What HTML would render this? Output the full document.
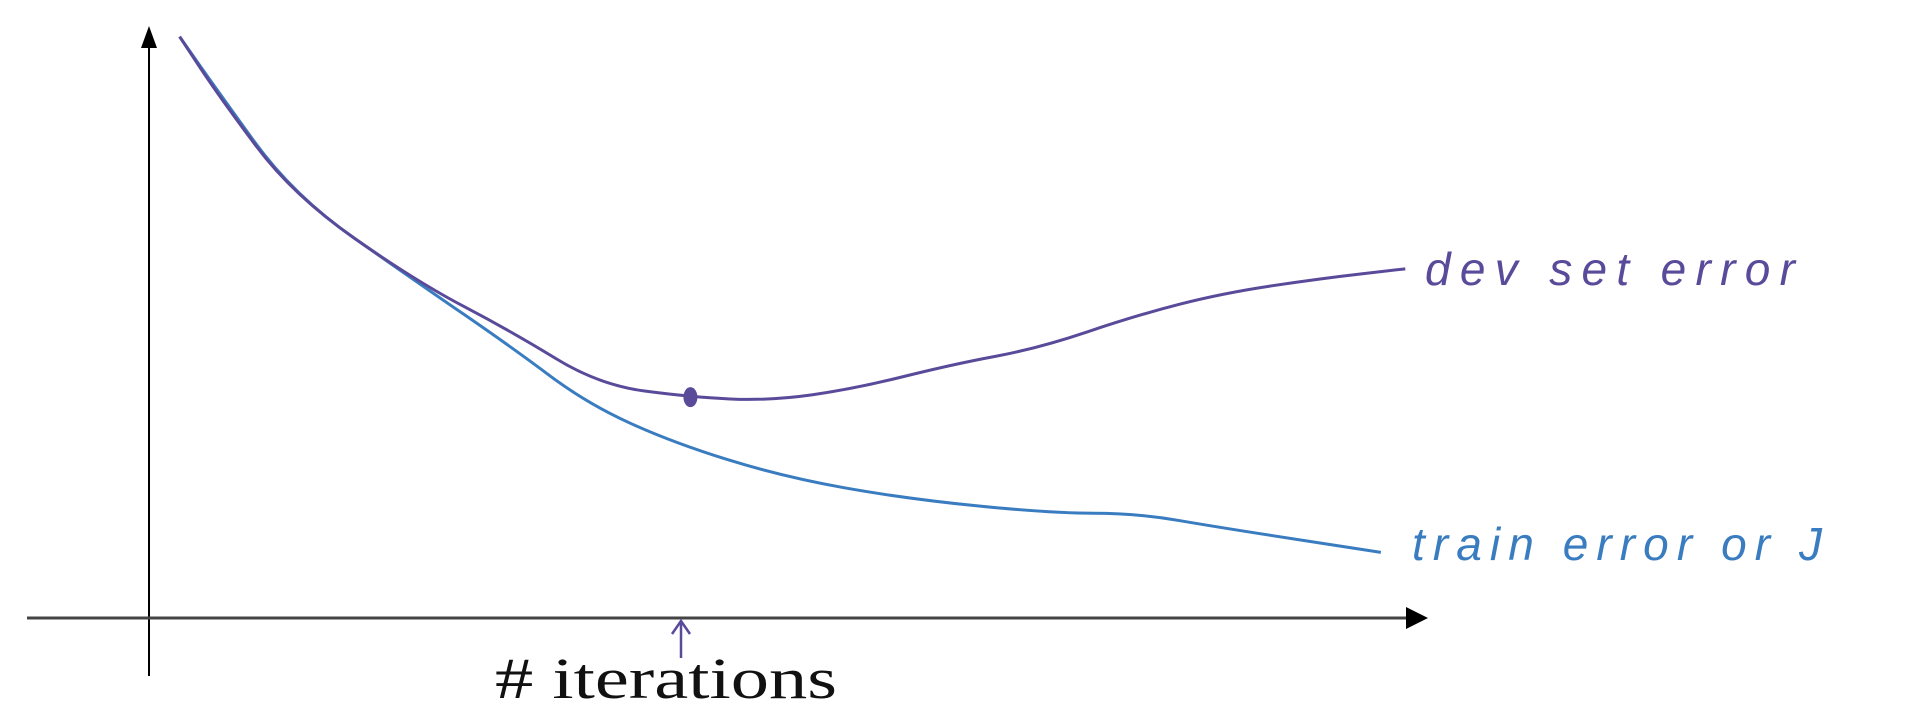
<!DOCTYPE html>
<html><head><meta charset="utf-8"><style>
html,body{margin:0;padding:0;background:#fff;width:1916px;height:726px;overflow:hidden}
</style></head><body>
<svg id="chart" width="1916" height="726" viewBox="0 0 1916 726" xmlns="http://www.w3.org/2000/svg">
<g id="axes">
<line x1="149" y1="676" x2="149" y2="40" stroke="#000" stroke-width="2"/>
<polygon points="149,26 141,48 157,48" fill="#000"/>
<line x1="27" y1="618" x2="1410" y2="618" stroke="#444" stroke-width="3"/>
<polygon points="1428,618 1406,607 1406,629" fill="#000"/>
<text x="495" y="698" font-family="Liberation Serif, serif" font-size="58" fill="#111" textLength="342" lengthAdjust="spacingAndGlyphs"># iterations</text>
<path d="M681,658 L681,622 M672,634 L681,621 L690,634" stroke="#5a4a9a" stroke-width="2.5" fill="none"/>
</g>
<g id="series"></g>
<text x="1425" y="285" font-family="Liberation Sans, sans-serif" font-size="46" font-style="italic" fill="#5a4a9a" textLength="370">dev set error</text>
<text x="1412" y="560" font-family="Liberation Sans, sans-serif" font-size="46" font-style="italic" fill="#3a7cc0" textLength="410">train error   or J</text>
</svg>
<script>
const iterations = [25, 58, 118, 218, 298, 368, 443, 508, 578, 658, 728, 808, 878, 958, 1028];
const devError = [476, 426, 346, 276, 234, 191, 181, 178, 188, 208, 221, 248, 266, 278, 286];
const trainIterations = [25, 53, 118, 218, 298, 358, 428, 518, 618, 738, 808, 878, 1008];
const trainError = [476, 436, 346, 276, 221, 176, 144, 116, 98, 86, 86, 74, 54];
const xScale = v => (122 + v) * 1.222;
const yScale = v => (506 - v) * 1.222;
const g = document.getElementById('series');
const NS = 'http://www.w3.org/2000/svg';
function line(xs, ys, color, name) {
  const p = document.createElementNS(NS, 'path');
  let d = '';
  xs.forEach((x, i) => {
    const px = xScale(x), py = yScale(ys[i]);
    if (i === 0) d += 'M' + px + ',' + py;
    else {
      const ppx = xScale(xs[i-1]), ppy = yScale(ys[i-1]);
      const mx = (ppx + px) / 2, my = (ppy + py) / 2;
      d += ' Q' + ppx + ',' + ppy + ' ' + mx + ',' + my;
    }
  });
  d += ' L' + xScale(xs[xs.length-1]) + ',' + yScale(ys[ys.length-1]);
  p.setAttribute('d', d);
  p.setAttribute('fill', 'none');
  p.setAttribute('stroke', color);
  p.setAttribute('stroke-width', '3');
  
  
  g.appendChild(p);
}
line(trainIterations, trainError, '#3a7cc0', 'train-error-line');
line(iterations, devError, '#5a4a9a', 'dev-error-line');
const dot = document.createElementNS(NS, 'ellipse');
dot.setAttribute('cx', xScale(443));
dot.setAttribute('cy', yScale(181));
dot.setAttribute('rx', '7');
dot.setAttribute('ry', '10');
dot.setAttribute('fill', '#5a4a9a');


g.appendChild(dot);
</script>
</body></html>
